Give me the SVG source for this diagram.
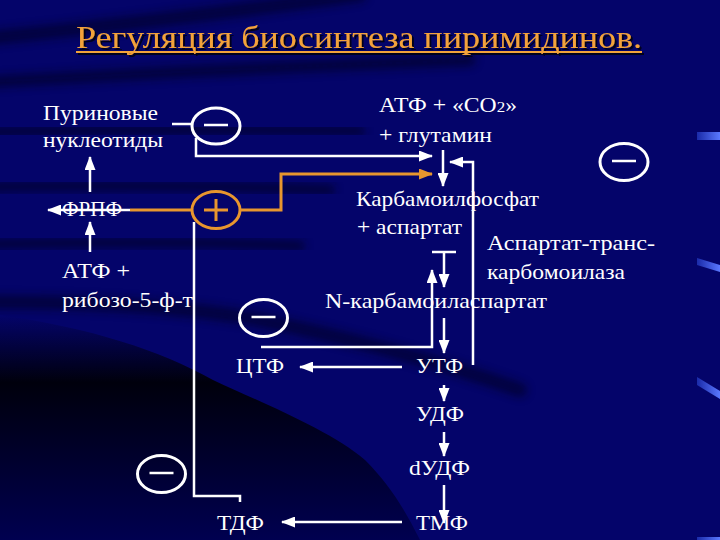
<svg xmlns="http://www.w3.org/2000/svg" width="720" height="540" viewBox="0 0 720 540">
<defs>
<style>
.t{font-size:21px;fill:#ffffff}
.title{font-size:32px;fill:#F2A23A}
.w{stroke:#ffffff;stroke-width:2.5;fill:none}
.o{stroke:#E8962E;stroke-width:3;fill:none}
.ring{fill:none;stroke:#ffffff;stroke-width:3}
.ringo{fill:none;stroke:#E8962E;stroke-width:3}
.band{fill:none;stroke:#00001a;stroke-linecap:round;opacity:.55;filter:url(#blur)}
</style>
<marker id="aw" markerUnits="userSpaceOnUse" markerWidth="14" markerHeight="11" refX="13" refY="5.5" orient="auto"><path d="M0,0 L14,5.5 L0,11 Z" fill="#ffffff"/></marker>
<marker id="ao" markerUnits="userSpaceOnUse" markerWidth="14" markerHeight="11" refX="13" refY="5.5" orient="auto"><path d="M0,0 L14,5.5 L0,11 Z" fill="#E8962E"/></marker>
<filter id="blur" x="-20%" y="-100%" width="140%" height="300%"><feGaussianBlur stdDeviation="4"/></filter>
<filter id="shadow" x="-5%" y="-30%" width="110%" height="160%"><feDropShadow dx="2" dy="2" stdDeviation="0.6" flood-color="#000010" flood-opacity="0.85"/></filter>
<linearGradient id="dark" gradientUnits="userSpaceOnUse" x1="0" y1="315" x2="0" y2="540"><stop offset="0" stop-color="#04046a"/><stop offset="0.3" stop-color="#00000c"/><stop offset="1" stop-color="#000050"/></linearGradient>
<linearGradient id="stripe" x1="0" y1="0" x2="1" y2="0"><stop offset="0" stop-color="#1a2aa8"/><stop offset="1" stop-color="#5a78ff"/></linearGradient>
</defs>

<g id="background">
<rect x="0" y="0" width="720" height="540" fill="#04046a"/>
<path class="band" d="M-10,38 Q150,22 360,-5" stroke-width="14"/>
<path class="band" d="M-10,82 Q200,70 470,60" stroke-width="12"/>
<path class="band" d="M-10,132 Q150,128 360,131" stroke-width="11"/>
<path class="band" d="M-10,187 Q180,184 330,190" stroke-width="11"/>
<path class="band" d="M-10,244 Q180,240 300,246" stroke-width="11"/>
<path class="band" d="M-10,302 Q150,302 250,318 Q400,348 520,390" stroke-width="14"/>
<path d="M0,315 C90,328 160,350 213,380 C260,402 330,430 365,460 C390,485 405,510 420,540 L0,540 Z" fill="url(#dark)"/>
<polygon points="697,132 720,132 720,140 697,140" fill="url(#stripe)"/>
<polygon points="697,258 720,265 720,272 697,265" fill="url(#stripe)"/>
<polygon points="697,377 720,391 720,399 697,385" fill="url(#stripe)"/>
<polygon points="697,537 720,537 720,540 697,540" fill="url(#stripe)"/>
</g>

<g id="title" filter="url(#shadow)" font-family="'Liberation Serif', serif">
<text class="title" x="76" y="47.5" textLength="566" lengthAdjust="spacingAndGlyphs">Регуляция биосинтеза пиримидинов.</text>
<rect x="76" y="51" width="566" height="2" fill="#F2A23A"/>
</g>

<g id="connectors">
<line class="w" x1="172" y1="124" x2="192" y2="124"/>
<polyline class="w" points="196,138 196,156 432,156" marker-end="url(#aw)"/>
<line class="o" x1="130" y1="210" x2="192" y2="210"/>
<polyline class="o" points="240,210 281,210 281,174 432,174" marker-end="url(#ao)"/>
<line class="w" x1="130" y1="210" x2="48" y2="210" marker-end="url(#aw)"/>
<line class="w" x1="90" y1="192" x2="90" y2="157" marker-end="url(#aw)"/>
<line class="w" x1="90" y1="252" x2="90" y2="222" marker-end="url(#aw)"/>
<line class="w" x1="443" y1="150" x2="443" y2="186" marker-end="url(#aw)"/>
<polyline class="w" points="473,365 473,162 450,162" marker-end="url(#aw)"/>
<line class="w" x1="432" y1="252" x2="456" y2="252"/>
<line class="w" x1="444" y1="252" x2="444" y2="287" marker-end="url(#aw)"/>
<polyline class="w" points="261,347 432,347 432,270" marker-end="url(#aw)"/>
<line class="w" x1="444" y1="318" x2="444" y2="353" marker-end="url(#aw)"/>
<line class="w" x1="402" y1="367" x2="300" y2="367" marker-end="url(#aw)"/>
<line class="w" x1="444" y1="385" x2="444" y2="401" marker-end="url(#aw)"/>
<line class="w" x1="444" y1="432" x2="444" y2="456" marker-end="url(#aw)"/>
<line class="w" x1="444" y1="485" x2="444" y2="523" marker-end="url(#aw)"/>
<line class="w" x1="402" y1="522" x2="282" y2="522" marker-end="url(#aw)"/>
<polyline class="w" points="194,222 194,496 240,496 240,502"/>
</g>

<g id="labels" font-family="'Liberation Serif', serif">
<g id="purine_nucleotides">
<text class="t" x="43" y="119.5" textLength="115" lengthAdjust="spacingAndGlyphs">Пуриновые</text>
<text class="t" x="43" y="147" textLength="120" lengthAdjust="spacingAndGlyphs">нуклеотиды</text>
</g>
<g id="frpf"><text class="t" x="62" y="215.5" textLength="60" lengthAdjust="spacingAndGlyphs">ФРПФ</text></g>
<g id="atp_ribose">
<text class="t" x="62" y="278" textLength="68" lengthAdjust="spacingAndGlyphs">АТФ +</text>
<text class="t" x="62" y="307" textLength="131" lengthAdjust="spacingAndGlyphs">рибозо-5-ф-т</text>
</g>
<g id="atp_co2">
<text class="t" x="379" y="112" textLength="138" lengthAdjust="spacingAndGlyphs">АТФ + «СО<tspan font-size="15">2</tspan>»</text>
<text class="t" x="379" y="142" textLength="113" lengthAdjust="spacingAndGlyphs">+ глутамин</text>
</g>
<g id="carbamoyl_phosphate">
<text class="t" x="356" y="206" textLength="183" lengthAdjust="spacingAndGlyphs">Карбамоилфосфат</text>
<text class="t" x="357" y="233.5" textLength="105" lengthAdjust="spacingAndGlyphs">+ аспартат</text>
</g>
<g id="enzyme">
<text class="t" x="487" y="250" textLength="168" lengthAdjust="spacingAndGlyphs">Аспартат-транс-</text>
<text class="t" x="487" y="279" textLength="138" lengthAdjust="spacingAndGlyphs">карбомоилаза</text>
</g>
<g id="n_carbamoylaspartate"><text class="t" x="325" y="307.5" textLength="222" lengthAdjust="spacingAndGlyphs">N-карбамоиласпартат</text></g>
<g id="ctp"><text class="t" x="236" y="373" textLength="48" lengthAdjust="spacingAndGlyphs">ЦТФ</text></g>
<g id="utp"><text class="t" x="416" y="373" textLength="47" lengthAdjust="spacingAndGlyphs">УТФ</text></g>
<g id="udp"><text class="t" x="416" y="421" textLength="48" lengthAdjust="spacingAndGlyphs">УДФ</text></g>
<g id="dudp"><text class="t" x="409" y="475" textLength="61" lengthAdjust="spacingAndGlyphs">dУДФ</text></g>
<g id="tmp"><text class="t" x="416" y="529.5" textLength="52" lengthAdjust="spacingAndGlyphs">ТМФ</text></g>
<g id="tdp"><text class="t" x="217" y="529.5" textLength="47" lengthAdjust="spacingAndGlyphs">ТДФ</text></g>
</g>

<g id="inhibit_purine"><ellipse class="ring" cx="216" cy="126" rx="24" ry="18"/><line class="w" stroke-width="3" x1="204" y1="125" x2="228" y2="125"/></g>
<g id="activate_prpp"><ellipse class="ringo" cx="216" cy="210" rx="24" ry="18.5"/><line class="o" x1="204" y1="210" x2="228" y2="210"/><line class="o" x1="216" y1="199" x2="216" y2="221"/></g>
<g id="inhibit_right"><ellipse class="ring" cx="624" cy="162" rx="24" ry="18.5"/><line class="w" stroke-width="3" x1="612" y1="161" x2="636" y2="161"/></g>
<g id="inhibit_ctp"><ellipse class="ring" cx="263.5" cy="318" rx="24" ry="18.5"/><line class="w" stroke-width="3" x1="251.5" y1="317" x2="275.5" y2="317"/></g>
<g id="inhibit_tdp"><ellipse class="ring" cx="161.5" cy="474" rx="24" ry="18.5"/><line class="w" stroke-width="3" x1="149.5" y1="473" x2="173.5" y2="473"/></g>
</svg>
